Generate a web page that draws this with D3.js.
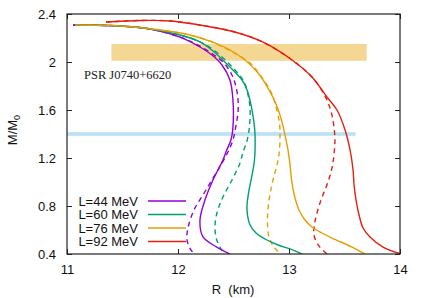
<!DOCTYPE html>
<html><head><meta charset="utf-8">
<script src="https://cdn.jsdelivr.net/npm/d3@7"></script>
<style>body{margin:0;background:#fff}svg{display:block}</style>
</head><body>
<svg id="c" width="425" height="298"></svg>
<script>
// ---- data (R in km, M in solar masses) ----
const labels = ["L=44 MeV","L=60 MeV","L=76 MeV","L=92 MeV"];
const colors = ["#9400d3","#009e73","#e69f00","#e51e10"];
const xTicks = [11,12,13,14];
const yTicks = [0.4,0.8,1.2,1.6,2.0,2.4];
const yTickLabels = ["0.4","0.8","1.2","1.6","2","2.4"];

const L44solid = [[11.054,2.308],[11.477,2.300],[11.748,2.275],[12.018,2.208],[12.198,2.125],[12.306,2.058],[12.396,1.975],[12.468,1.850],[12.495,1.683],[12.493,1.433],[12.477,1.350],[12.439,1.267],[12.405,1.183],[12.360,1.100],[12.315,1.017],[12.243,0.850],[12.198,0.683],[12.225,0.542],[12.349,0.458],[12.468,0.400]];
const L44dash = [[11.054,2.308],[11.477,2.300],[11.748,2.275],[12.018,2.208],[12.198,2.133],[12.324,2.058],[12.414,1.992],[12.486,1.892],[12.523,1.792],[12.541,1.683],[12.541,1.583],[12.523,1.475],[12.495,1.350],[12.450,1.250],[12.396,1.158],[12.306,1.017],[12.225,0.892],[12.144,0.767],[12.090,0.617],[12.081,0.517],[12.117,0.433],[12.153,0.400]];
const L60solid = [[11.072,2.308],[11.477,2.300],[11.748,2.275],[12.018,2.225],[12.198,2.167],[12.315,2.092],[12.495,1.933],[12.577,1.850],[12.622,1.767],[12.658,1.642],[12.685,1.492],[12.694,1.392],[12.689,1.183],[12.667,1.058],[12.640,0.933],[12.622,0.808],[12.626,0.725],[12.649,0.642],[12.703,0.575],[12.784,0.525],[12.901,0.475],[13.009,0.442],[13.117,0.400]];
const L60dash = [[11.072,2.308],[11.477,2.300],[11.748,2.275],[12.018,2.225],[12.198,2.167],[12.333,2.092],[12.514,1.933],[12.595,1.833],[12.631,1.725],[12.649,1.617],[12.649,1.533],[12.640,1.433],[12.619,1.333],[12.586,1.250],[12.559,1.158],[12.486,1.017],[12.405,0.875],[12.351,0.742],[12.333,0.625],[12.349,0.517],[12.394,0.433],[12.423,0.400]];
const L76solid = [[11.072,2.308],[11.477,2.300],[11.838,2.267],[12.108,2.225],[12.306,2.167],[12.468,2.100],[12.604,2.017],[12.721,1.908],[12.811,1.783],[12.883,1.650],[12.937,1.500],[12.964,1.392],[12.991,1.267],[13.009,1.142],[13.027,0.992],[13.054,0.867],[13.090,0.767],[13.144,0.683],[13.207,0.625],[13.297,0.575],[13.387,0.533],[13.568,0.458],[13.685,0.400]];
const L76dash = [[11.072,2.308],[11.477,2.300],[11.838,2.267],[12.108,2.225],[12.306,2.167],[12.405,2.125],[12.649,1.992],[12.739,1.892],[12.829,1.767],[12.874,1.658],[12.914,1.492],[12.919,1.375],[12.914,1.267],[12.896,1.158],[12.856,1.017],[12.820,0.850],[12.806,0.683],[12.820,0.542],[12.865,0.458],[12.928,0.400]];
const L92solid = [[11.351,2.333],[11.658,2.346],[11.928,2.342],[12.198,2.308],[12.495,2.254],[12.757,2.169],[13.027,2.017],[13.207,1.875],[13.342,1.708],[13.432,1.600],[13.505,1.433],[13.550,1.267],[13.577,1.100],[13.586,0.975],[13.604,0.850],[13.631,0.725],[13.667,0.617],[13.730,0.542],[13.847,0.458],[14.0,0.404]];
const L92dash = [[11.351,2.333],[11.658,2.346],[11.928,2.342],[12.198,2.308],[12.495,2.254],[12.757,2.169],[13.027,2.017],[13.207,1.875],[13.315,1.733],[13.360,1.642],[13.387,1.558],[13.405,1.458],[13.414,1.350],[13.405,1.225],[13.387,1.117],[13.351,1.000],[13.279,0.825],[13.234,0.667],[13.225,0.558],[13.270,0.467],[13.342,0.400]];

const solidSeries = [L44solid, L60solid, L76solid, L92solid];
const dashSeries = [L44dash, L60dash, L76dash, L92dash];

// constraint bands
const psrBand = {r0: 11.4, r1: 13.7, m0: 2.01, m1: 2.15};
const canonBand = {r0: 11.0, r1: 13.6, m0: 1.385, m1: 1.415};
const psrLabel = "PSR J0740+6620";

// ---- layout ----
const svg = d3.select("#c");
const pL = 67, pR = 400, pT = 14, pB = 254;
const x = d3.scaleLinear().domain([11,14]).range([pL,pR]);
const y = d3.scaleLinear().domain([0.4,2.4]).range([pB,pT]);
const sans = "Liberation Sans, Arial, sans-serif";

svg.append("defs").append("clipPath").attr("id","clip")
  .append("rect").attr("x",pL).attr("y",pT).attr("width",pR-pL).attr("height",pB-pT);

// bands
svg.append("rect").attr("x",x(psrBand.r0)).attr("y",y(psrBand.m1))
  .attr("width",x(psrBand.r1)-x(psrBand.r0)).attr("height",y(psrBand.m0)-y(psrBand.m1))
  .attr("fill","#e69f00").attr("fill-opacity",0.42);
svg.append("rect").attr("x",x(canonBand.r0)).attr("y",y(canonBand.m1))
  .attr("width",x(canonBand.r1)-x(canonBand.r0)).attr("height",y(canonBand.m0)-y(canonBand.m1))
  .attr("fill","#56b4e9").attr("fill-opacity",0.4);

svg.append("text").attr("x",84).attr("y",79)
  .attr("font-family","Liberation Serif, Times New Roman, serif").attr("font-size",12.5)
  .attr("fill","#222").text(psrLabel);

// curves
const line = d3.line().x(d=>x(d[0])).y(d=>y(d[1])).curve(d3.curveCatmullRom.alpha(0.5));
const g = svg.append("g").attr("clip-path","url(#clip)");
dashSeries.forEach((s,i)=>{
  g.append("path").attr("d",line(s)).attr("fill","none").attr("stroke",colors[i])
   .attr("stroke-width",1.4).attr("stroke-dasharray","5,4");
});
solidSeries.forEach((s,i)=>{
  g.append("path").attr("d",line(s)).attr("fill","none").attr("stroke",colors[i])
   .attr("stroke-width",1.4);
});

// frame + ticks
svg.append("rect").attr("x",pL).attr("y",pT).attr("width",pR-pL).attr("height",pB-pT)
  .attr("fill","none").attr("stroke","#222").attr("stroke-width",1.2);

const xAxisB = d3.axisBottom(x).tickValues(xTicks).tickSizeInner(-5).tickSizeOuter(0).tickPadding(11).tickFormat(d3.format("d"));
const gb = svg.append("g").attr("transform",`translate(0,${pB})`).call(xAxisB);
const xAxisT = d3.axisTop(x).tickValues(xTicks).tickSizeInner(-5).tickSizeOuter(0).tickFormat("");
const gt = svg.append("g").attr("transform",`translate(0,${pT})`).call(xAxisT);
const yAxisL = d3.axisLeft(y).tickValues(yTicks).tickSizeInner(-5).tickSizeOuter(0).tickPadding(11).tickFormat((d,i)=>yTickLabels[i]);
const gl = svg.append("g").attr("transform",`translate(${pL},0)`).call(yAxisL);
const yAxisR = d3.axisRight(y).tickValues(yTicks).tickSizeInner(-5).tickSizeOuter(0).tickFormat("");
const gr = svg.append("g").attr("transform",`translate(${pR},0)`).call(yAxisR);
[gb,gt,gl,gr].forEach(a=>{
  a.select(".domain").remove();
  a.selectAll("line").attr("stroke","#222");
  a.selectAll("text").attr("font-family",sans).attr("font-size",13).attr("fill","#111");
});

// axis titles
svg.append("text").attr("x",233).attr("y",294).attr("text-anchor","middle")
  .attr("font-family",sans).attr("font-size",13).attr("fill","#111")
  .attr("xml:space","preserve").text("R  (km)");
const yt = svg.append("text").attr("transform","translate(17,130) rotate(-90)")
  .attr("text-anchor","middle").attr("font-family",sans).attr("font-size",13).attr("fill","#111");
yt.append("tspan").text("M/M");
yt.append("tspan").attr("font-size",9).attr("dy",3).text("0");

// legend
labels.forEach((lab,i)=>{
  const yy = 201 + i*13.5;
  svg.append("text").attr("x",138).attr("y",yy+4.5).attr("text-anchor","end")
    .attr("font-family",sans).attr("font-size",13).attr("fill","#111").text(lab);
  svg.append("line").attr("x1",148).attr("x2",186).attr("y1",yy).attr("y2",yy)
    .attr("stroke",colors[i]).attr("stroke-width",1.6);
});
</script>
</body></html>
